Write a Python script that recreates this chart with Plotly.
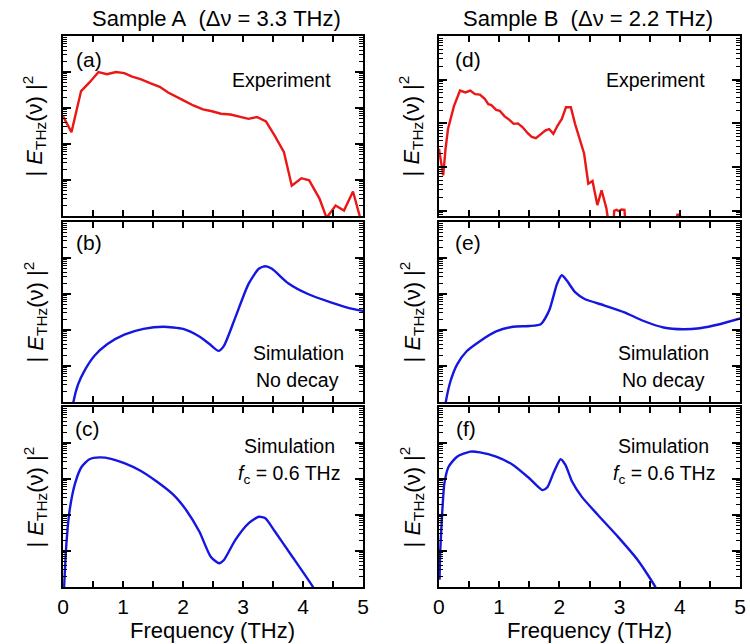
import numpy as np
import plotly.graph_objects as go

# ---------------- data (log10 of |E_THz|^2, arb. units) ----------------
# (a) Sample A experiment
freq_a = [0.0, 0.14, 0.30, 0.44, 0.59, 0.73, 0.88, 1.02, 1.15, 1.29, 1.45, 1.61, 1.75, 1.89,
          2.03, 2.17, 2.33, 2.48, 2.63, 2.79, 2.94, 3.09, 3.23, 3.38, 3.53, 3.68, 3.81, 3.97,
          4.10, 4.27, 4.39, 4.54, 4.68, 4.83, 4.95]
log_a = [-2.23, -2.67, -1.53, -1.29, -1.00, -1.06, -1.00, -1.03, -1.13, -1.20, -1.31, -1.41,
         -1.57, -1.68, -1.81, -1.93, -2.04, -2.09, -2.16, -2.18, -2.23, -2.30, -2.25, -2.37,
         -2.78, -3.23, -4.16, -3.95, -4.01, -4.51, -5.05, -4.71, -4.85, -4.32, -5.05]

# (b) Sample A simulation, no decay
freq_b = [0.14, 0.17, 0.25, 0.36, 0.52, 0.74, 1.02, 1.34, 1.67, 2.00, 2.27, 2.44, 2.59, 2.68,
          2.87, 3.09, 3.26, 3.37, 3.48, 3.75, 4.08, 4.46, 4.84, 5.00]
log_b = [-5.4, -5.02, -4.51, -4.12, -3.72, -3.39, -3.13, -2.97, -2.91, -2.97, -3.18, -3.39,
         -3.58, -3.44, -2.65, -1.72, -1.30, -1.23, -1.30, -1.70, -2.00, -2.23, -2.42, -2.47]

# (c) Sample A simulation, f_c = 0.6 THz
freq_c = [0.01, 0.02, 0.06, 0.11, 0.20, 0.31, 0.44, 0.61, 0.80, 1.02, 1.29, 1.56, 1.84, 2.05,
          2.27, 2.46, 2.60, 2.68, 2.87, 3.09, 3.26, 3.37, 3.53, 3.80, 4.16, 4.30]
log_c = [-5.3, -4.90, -3.69, -2.86, -2.12, -1.66, -1.45, -1.40, -1.44, -1.56, -1.77, -2.07,
         -2.44, -2.86, -3.46, -4.16, -4.34, -4.25, -3.69, -3.23, -3.05, -3.09, -3.46, -4.11,
         -4.99, -5.4]

# (d) Sample B experiment
freq_d = [0.0, 0.07, 0.11, 0.15, 0.25, 0.35, 0.44, 0.52, 0.60, 0.68, 0.76, 0.82, 0.87, 0.95,
          1.01, 1.09, 1.17, 1.24, 1.31, 1.39, 1.47, 1.54, 1.61, 1.69, 1.77, 1.83, 1.90, 1.97,
          2.04, 2.11, 2.19, 2.26, 2.34, 2.41, 2.48, 2.55, 2.63, 2.70, 2.78, 2.84, 2.89, 2.91,
          2.95, 2.99, 3.03, 3.08, 3.11, 3.90, 3.96, 4.00, 4.04, 5.00]
log_d = [-2.58, -3.19, -2.58, -2.13, -1.60, -1.25, -1.29, -1.25, -1.33, -1.34, -1.44, -1.56,
         -1.58, -1.69, -1.71, -1.84, -1.92, -2.01, -2.00, -2.09, -2.22, -2.31, -2.34, -2.26,
         -2.16, -2.13, -2.24, -2.05, -1.90, -1.63, -1.63, -2.01, -2.35, -2.69, -3.38, -3.32,
         -3.87, -3.53, -3.94, -4.50, -4.50, -4.00, -3.98, -4.01, -3.97, -3.98, -4.50, -4.50,
         -4.09, -4.09, -4.50, -4.50]

# (e) Sample B simulation, no decay
freq_e = [0.08, 0.11, 0.19, 0.30, 0.46, 0.68, 0.95, 1.23, 1.50, 1.69, 1.83, 1.96, 2.04, 2.12,
          2.26, 2.42, 2.75, 3.08, 3.40, 3.73, 4.06, 4.33, 4.66, 5.00]
log_e = [-5.4, -5.03, -4.43, -3.96, -3.59, -3.31, -3.04, -2.91, -2.89, -2.84, -2.46, -1.72,
         -1.48, -1.62, -1.95, -2.14, -2.32, -2.51, -2.75, -2.93, -2.98, -2.95, -2.84, -2.68]

# (f) Sample B simulation, f_c = 0.6 THz
freq_f = [0.01, 0.02, 0.05, 0.09, 0.16, 0.30, 0.52, 0.68, 0.95, 1.23, 1.50, 1.72, 1.80, 1.91,
          2.02, 2.10, 2.21, 2.37, 2.64, 2.97, 3.30, 3.59, 3.70]
log_f = [-4.8, -4.06, -3.05, -2.12, -1.66, -1.38, -1.24, -1.26, -1.38, -1.61, -1.98, -2.31,
         -2.23, -1.80, -1.45, -1.61, -2.07, -2.49, -3.00, -3.60, -4.25, -4.99, -5.4]

x_ticks = [0, 1, 2, 3, 4, 5]
x_ticktext = ["0", "1", "2", "3", "4", "5"]

panel_labels = ["(a)", "(d)", "(b)", "(e)", "(c)", "(f)"]
column_titles = ["Sample A\u00a0 (\u0394\u03bd = 3.3 THz)", "Sample B\u00a0 (\u0394\u03bd = 2.2 THz)"]

# ---------------- figure ----------------
W, H = 750, 644
RED = "rgb(235,22,22)"
BLUE = "rgb(22,22,225)"
FONT = "Liberation Sans, Arial, Helvetica, sans-serif"

col_px = [(58, 363), (440, 746)]
row_px = [(36, 216), (222, 402), (407, 587)]

panels = [
    (freq_a, log_a, RED, 0, 0, "linear", [-5, 0]),
    (freq_d, log_d, RED, 0, 1, "linear", [-4.12, 0]),
    (freq_b, log_b, BLUE, 1, 0, "spline", [-5, 0]),
    (freq_e, log_e, BLUE, 1, 1, "spline", [-5, 0]),
    (freq_c, log_c, BLUE, 2, 0, "spline", [-5, 0]),
    (freq_f, log_f, BLUE, 2, 1, "spline", [-5, 0]),
]

fig = go.Figure()
layout = {}
for i, (fx, fy, col, r, c, shape, yr) in enumerate(panels):
    n = "" if i == 0 else str(i + 1)
    x0, x1 = col_px[c]
    y0, y1 = row_px[r]
    fig.add_trace(go.Scatter(
        x=fx, y=10 ** np.array(fy), mode="lines",
        line=dict(color=col, width=2.4, shape=shape, smoothing=0.6),
        xaxis="x" + n, yaxis="y" + n, showlegend=False, hoverinfo="skip"))
    decades = list(range(int(np.floor(yr[0])), int(np.ceil(yr[1])) + 1))
    majors = [10.0 ** d for d in decades]
    minors = [m * 10.0 ** d for d in decades for m in range(2, 10)]
    layout["xaxis" + n] = dict(
        domain=[x0 / W, x1 / W], anchor="y" + n, range=[0, 5],
        tickmode="array", tickvals=x_ticks, ticktext=x_ticktext,
        showticklabels=(r == 2),
        ticks="inside", ticklen=6, tickwidth=1.6, tickcolor="black",
        minor=dict(dtick=0.5, tick0=0, ticks="inside", ticklen=6, tickwidth=1.6, tickcolor="black"),
        showline=True, linewidth=2.2, linecolor="black", mirror="allticks",
        showgrid=False, zeroline=False,
        tickfont=dict(family=FONT, size=21, color="black"),
    )
    layout["yaxis" + n] = dict(
        domain=[1 - y1 / H, 1 - y0 / H], anchor="x" + n, type="log", range=yr,
        tickmode="array", tickvals=majors, showticklabels=False,
        ticks="inside", ticklen=8, tickwidth=1.6, tickcolor="black",
        minor=dict(tickmode="array", tickvals=minors, ticks="inside", ticklen=4,
                   tickwidth=1, tickcolor="black"),
        showline=True, linewidth=2.2, linecolor="black", mirror="allticks",
        showgrid=False, zeroline=False,
    )


def ann(text, x, y, size=19, angle=0, xanchor="center"):
    return dict(text=text, x=x / W, y=1 - y / H, xref="paper", yref="paper",
                showarrow=False, xanchor=xanchor, yanchor="middle", textangle=angle,
                font=dict(family=FONT, size=size, color="black"))


ytitle = "| <i>E</i><sub>THz</sub>(\u03bd) |<sup>2</sup>"
annotations = [
    ann(column_titles[0], 214, 18, size=22),
    ann(column_titles[1], 591, 18, size=22),
    ann("Frequency (THz)", 210, 630, size=22),
    ann("Frequency (THz)", 593, 630, size=22),
]
for r in range(3):
    yc = (row_px[r][0] + row_px[r][1]) / 2
    annotations.append(ann(ytitle, 29, yc, size=22, angle=-90))
    annotations.append(ann(ytitle, 412, yc, size=22, angle=-90))

label_pos = [(84, 60), (470, 60), (84, 243), (470, 243), (83, 428), (467, 428)]
for lab, (x, y) in zip(panel_labels, label_pos):
    annotations.append(ann(lab, x, y, size=21))

annotations += [
    ann("Experiment", 280, 80, size=19.5),
    ann("Experiment", 660, 80, size=19.5),
    ann("Simulation", 297, 353, size=19.5),
    ann("No decay", 296, 380, size=19.5),
    ann("Simulation", 668, 353, size=19.5),
    ann("No decay", 668, 380, size=19.5),
    ann("Simulation", 288, 446, size=19.5),
    ann("<i>f</i><sub>c</sub> = 0.6 THz", 288, 474, size=19.5),
    ann("Simulation", 668, 446, size=19.5),
    ann("<i>f</i><sub>c</sub> = 0.6 THz", 669, 474, size=19.5),
]

fig.update_layout(
    width=W, height=H, margin=dict(l=0, r=0, t=0, b=0),
    paper_bgcolor="white", plot_bgcolor="white",
    annotations=annotations, **layout)

fig.write_html("out.html")
